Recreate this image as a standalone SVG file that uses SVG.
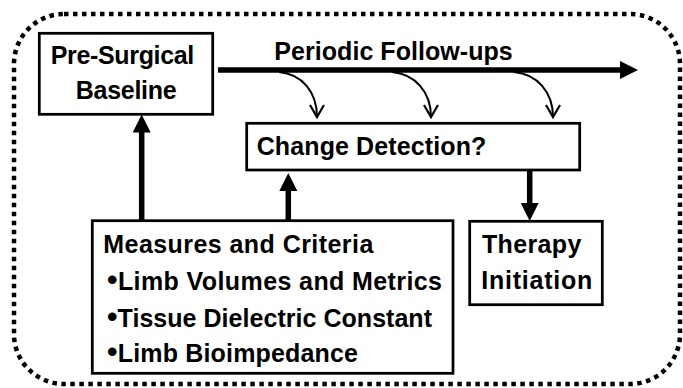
<svg xmlns="http://www.w3.org/2000/svg" width="683" height="388" viewBox="0 0 683 388">
<style>
.box{fill:#fff;stroke:#000;stroke-width:2.75}
.t{font-family:"Liberation Sans",Arial,sans-serif;font-weight:bold;font-size:25px;fill:#000}
.b{font-size:30px}
.thick{stroke:#000;stroke-width:5.5;fill:none;marker-end:url(#ah)}
.thin{stroke:#000;stroke-width:2;fill:none;marker-end:url(#ch)}
</style>
<defs>
<marker id="ah" markerUnits="userSpaceOnUse" markerWidth="18" markerHeight="18" refX="2" refY="9" orient="auto" overflow="visible">
<path d="M0,0 L18,9 L0,18 z" fill="#000"/>
</marker>
<marker id="ch" markerUnits="userSpaceOnUse" markerWidth="13" markerHeight="14" refX="12" refY="7" orient="auto" overflow="visible">
<path d="M0,0 L12,7 L0,14" fill="none" stroke="#000" stroke-width="2.2"/>
</marker>
</defs>
<rect x="14" y="14" width="666" height="370" rx="50" ry="50" fill="none" stroke="#000" stroke-width="4.5" stroke-dasharray="4.5 4.5"/>
<g id="connectors">
<line class="thick" x1="218" y1="70" x2="622" y2="70"/>
<path class="thin" d="M279,72 C302,74 317,92 317,117"/>
<path class="thin" d="M392,72 C415,74 431,92 431,117"/>
<path class="thin" d="M514,72 C537,74 553,92 553,117"/>
<line class="thick" x1="141.7" y1="220" x2="141.7" y2="130.5"/>
<line class="thick" x1="288.3" y1="220" x2="288.3" y2="189"/>
<line class="thick" x1="529.7" y1="170" x2="529.7" y2="205"/>
</g>
<text class="t" x="274.3" y="60" textLength="238.4">Periodic Follow-ups</text>
<g id="baseline">
<rect class="box" x="39.3" y="33.3" width="173.4" height="81"/>
<text class="t" x="50.7" y="64.3" textLength="143.6">Pre-Surgical</text>
<text class="t" x="75.7" y="99" textLength="101">Baseline</text>
</g>
<g id="change">
<rect class="box" x="246.7" y="123.3" width="333" height="46.7"/>
<text class="t" x="256.7" y="155" textLength="229.6">Change Detection?</text>
</g>
<g id="measures">
<rect class="box" x="92.3" y="220.7" width="360.7" height="152.6"/>
<text class="t" x="103.3" y="253.3" textLength="270">Measures and Criteria</text>
<text class="t" x="107" y="290" textLength="335"><tspan class="b">•</tspan>Limb Volumes and Metrics</text>
<text class="t" x="107" y="326.7" textLength="325"><tspan class="b">•</tspan>Tissue Dielectric Constant</text>
<text class="t" x="107" y="361.7" textLength="251"><tspan class="b">•</tspan>Limb Bioimpedance</text>
</g>
<g id="therapy">
<rect class="box" x="469.7" y="221.3" width="132.6" height="83.4"/>
<text class="t" x="482" y="253" textLength="99.3">Therapy</text>
<text class="t" x="481.3" y="289" textLength="111">Initiation</text>
</g>
</svg>
